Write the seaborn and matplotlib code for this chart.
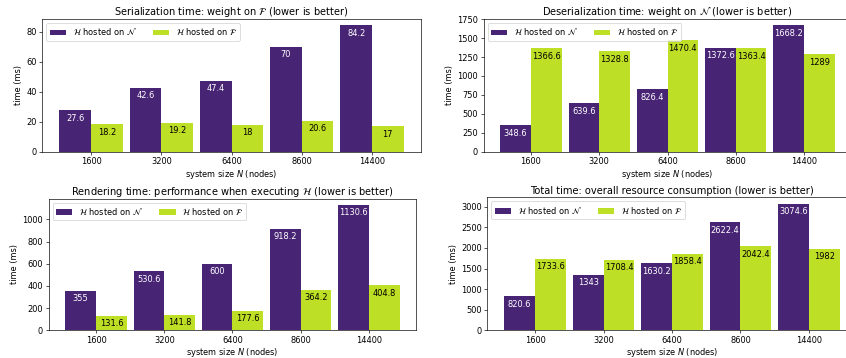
import matplotlib
matplotlib.use("Agg")
import matplotlib.pyplot as plt
import seaborn as sns
import pandas as pd

# --- data ---
sizes = ["1600", "3200", "6400", "8600", "14400"]
host_n = r"$\mathcal{H}$ hosted on $\mathcal{N}$"
host_f = r"$\mathcal{H}$ hosted on $\mathcal{F}$"

serial_n = [27.6, 42.6, 47.4, 70, 84.2]
serial_f = [18.2, 19.2, 18, 20.6, 17]
deserial_n = [348.6, 639.6, 826.4, 1372.6, 1668.2]
deserial_f = [1366.6, 1328.8, 1470.4, 1363.4, 1289]
render_n = [355, 530.6, 600, 918.2, 1130.6]
render_f = [131.6, 141.8, 177.6, 364.2, 404.8]
total_n = [820.6, 1343, 1630.2, 2622.4, 3074.6]
total_f = [1733.6, 1708.4, 1858.4, 2042.4, 1982]

titles = [
    r"Serialization time: weight on $\mathcal{F}$ (lower is better)",
    r"Deserialization time: weight on $\mathcal{N}$ (lower is better)",
    r"Rendering time: performance when executing $\mathcal{H}$ (lower is better)",
    "Total time: overall resource consumption (lower is better)",
]
series = [(serial_n, serial_f), (deserial_n, deserial_f),
          (render_n, render_f), (total_n, total_f)]

colors = [plt.cm.viridis(0.1), plt.cm.viridis(0.9)]
label_colors = ["white", "black"]

DPI = 59
fig = plt.figure(figsize=(846 / DPI, 358 / DPI), dpi=DPI)

# axes boxes in pixels (left, top, right, bottom) measured on the reference
boxes = [(42.2, 19, 420.8, 151.7), (483.5, 19, 851.5, 151.7),
         (48.6, 198.7, 416.4, 330.3), (487.4, 197.3, 856.6, 330.3)]

for (vals_n, vals_f), title, (l, t, r, b) in zip(series, titles, boxes):
    ax = fig.add_axes([l / 846, (358 - b) / 358, (r - l) / 846, (b - t) / 358])
    df = pd.DataFrame({
        "size": sizes * 2,
        "time": vals_n + vals_f,
        "host": [host_n] * len(sizes) + [host_f] * len(sizes),
    })
    sns.barplot(data=df, x="size", y="time", hue="host", hue_order=[host_n, host_f],
                palette=colors, width=0.9, saturation=1, linewidth=0,
                ax=ax, errorbar=None)

    for cont, col in zip(ax.containers, label_colors):
        for patch, v in zip(cont.patches, cont.datavalues):
            ax.annotate(f"{v:g}", (patch.get_x() + patch.get_width() / 2, patch.get_height()),
                        xytext=(0, -8), textcoords="offset pixels",
                        ha="center", va="center", color=col, fontsize=10)

    # matplotlib-like 5% margins around the bars
    lo = min(p.get_x() for p in ax.patches if p.get_width() > 0)
    hi = max(p.get_x() + p.get_width() for p in ax.patches if p.get_width() > 0)
    pad = 0.05 * (hi - lo)
    ax.set_xlim(lo - pad, hi + pad)

    ax.set_title(title, pad=4)
    ax.set_xlabel("system size $N$ (nodes)", labelpad=1.5)
    ax.set_ylabel("time (ms)")
    ax.legend(loc="upper left", ncol=2)

fig.savefig("out.png", dpi=DPI)
